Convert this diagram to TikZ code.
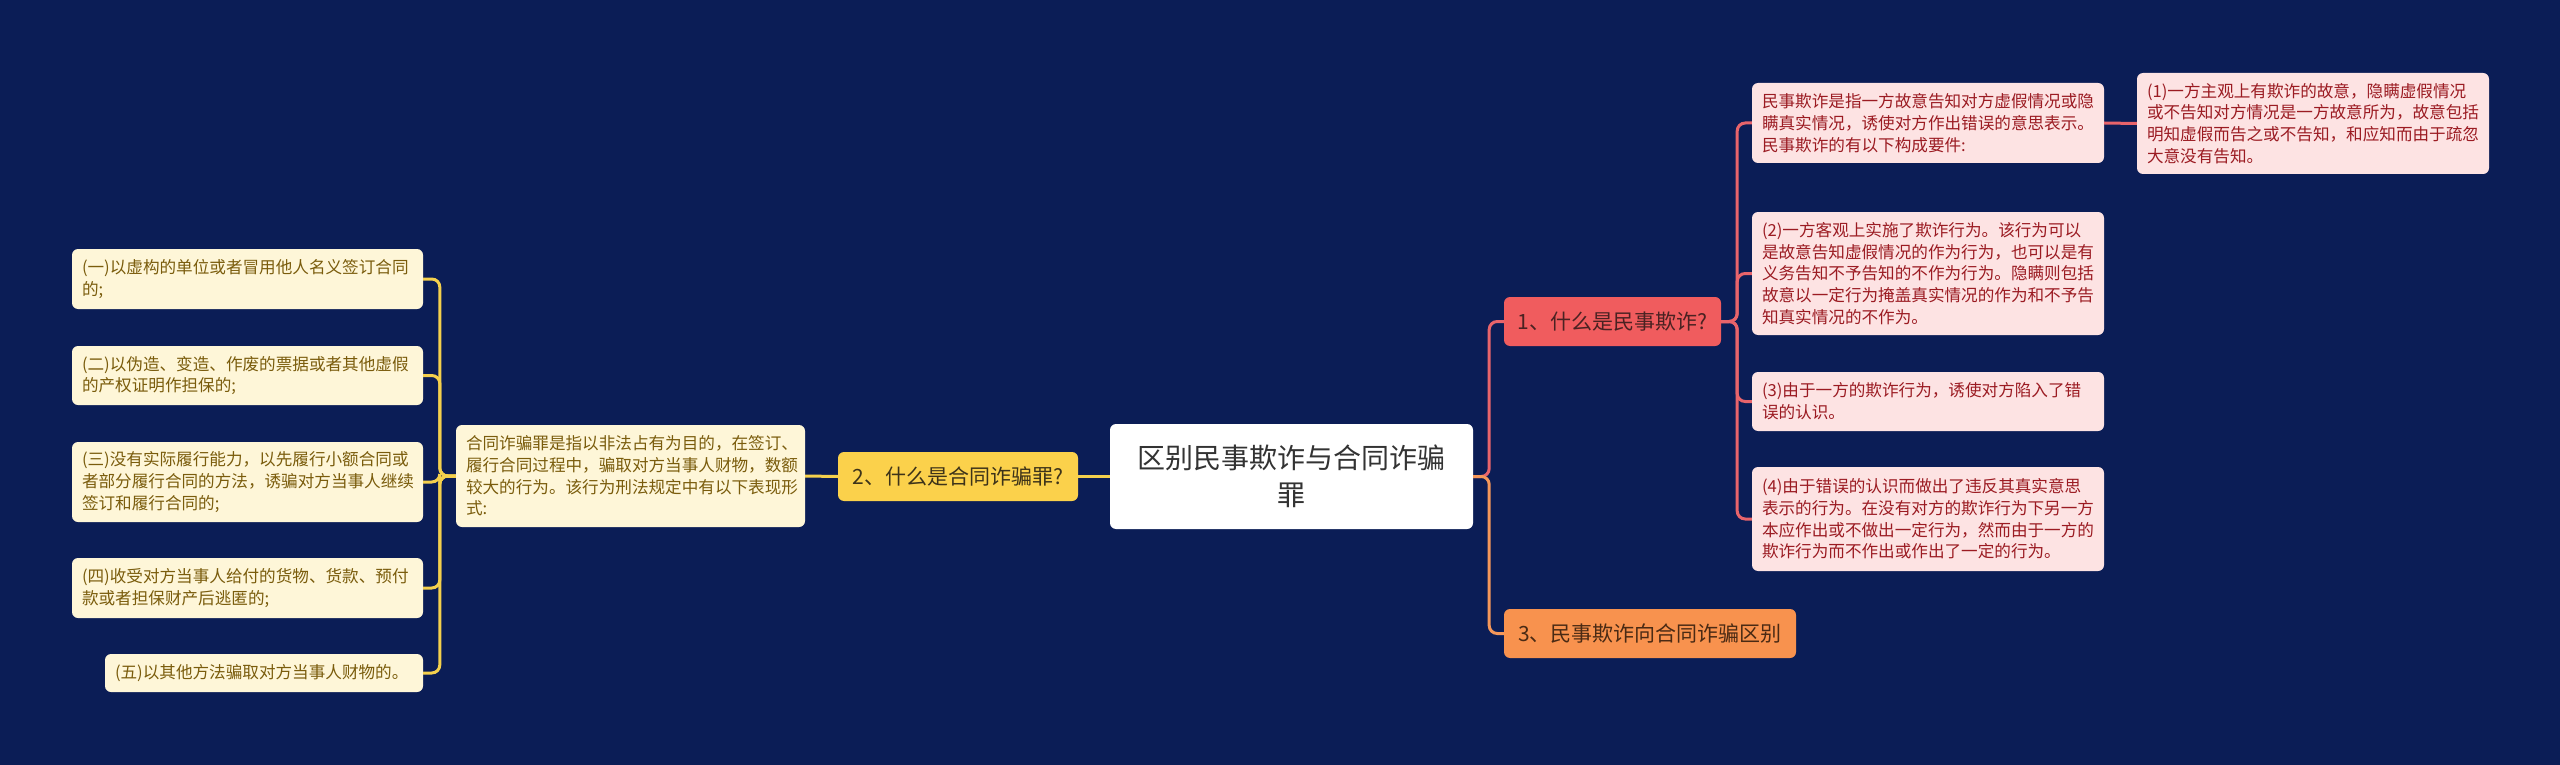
\documentclass[tikz,border=0pt]{standalone}
\usepackage{fontspec}
\setmainfont{Noto Sans CJK SC}
\usetikzlibrary{calc}

\begin{document}
\begin{tikzpicture}[x=1pt, y=-1pt,
    box/.style={rounded corners=6pt, inner xsep=10pt, inner ysep=0pt},
    rootbox/.style={box, fill=white, text=rootText, align=center, font=\fontsize{28}{37}\selectfont},
    branchbox/.style={box, align=center, minimum height=49pt, font=\fontsize{21}{26}\selectfont},
    leafR/.style={box, fill=leafRFill, text=leafRText, align=left, text width=332pt, font=\fontsize{16.6}{21.7}\selectfont},
    leafL/.style={box, fill=leafLFill, text=leafLText, align=left, text width=331pt, font=\fontsize{16.6}{21.7}\selectfont},
    link/.style={line width=3pt, rounded corners=8pt}]
    % Define colours
    \definecolor{bgColour}{HTML}{0B1D56}
    \definecolor{rootText}{HTML}{333333}
    \definecolor{redFill}{HTML}{F05C5E}
    \definecolor{redText}{HTML}{4A2222}
    \definecolor{orangeFill}{HTML}{F8924E}
    \definecolor{orangeText}{HTML}{4A2A14}
    \definecolor{yellowFill}{HTML}{FBD14B}
    \definecolor{yellowText}{HTML}{3D3319}
    \definecolor{leafRFill}{HTML}{FDE3E3}
    \definecolor{leafRText}{HTML}{9B1B22}
    \definecolor{leafLFill}{HTML}{FEF6D8}
    \definecolor{leafLText}{HTML}{7A5C0C}
    \definecolor{redLine}{HTML}{E8646B}
    \definecolor{orangeLine}{HTML}{F5975A}
    \definecolor{yellowLine}{HTML}{F4D04D}

    % Background
    \fill[bgColour] (0,0) rectangle (2560,765);
    \useasboundingbox (0,0) rectangle (2560,765);

    % Root
    \node[rootbox, minimum width=363pt, minimum height=105pt] (root) at (1291.5,476.5) {区别民事欺诈与合同诈骗\\罪};

    % Branches
    \node[branchbox, fill=redFill, text=redText, minimum width=217pt] (n1) at (1612.5,321.5) {1、什么是民事欺诈?};
    \node[branchbox, fill=yellowFill, text=yellowText, minimum width=240pt] (n2) at (958,476.5) {2、什么是合同诈骗罪?};
    \node[branchbox, fill=orangeFill, text=orangeText, minimum width=292pt] (n3) at (1650,633.5) {3、民事欺诈向合同诈骗区别};

    % Right leaves
    \node[leafR, minimum height=80pt] (ra) at (1928,123) {民事欺诈是指一方故意告知对方虚假情况或隐\\瞒真实情况，诱使对方作出错误的意思表示。\\民事欺诈的有以下构成要件:};
    \node[leafR, minimum height=101pt] (r1) at (2313,123.5) {(1)一方主观上有欺诈的故意，隐瞒虚假情况\\或不告知对方情况是一方故意所为，故意包括\\明知虚假而告之或不告知，和应知而由于疏忽\\大意没有告知。};
    \node[leafR, minimum height=123pt] (r2) at (1928,273.5) {(2)一方客观上实施了欺诈行为。该行为可以\\是故意告知虚假情况的作为行为，也可以是有\\义务告知不予告知的不作为行为。隐瞒则包括\\故意以一定行为掩盖真实情况的作为和不予告\\知真实情况的不作为。};
    \node[leafR, minimum height=59pt] (r3) at (1928,401.5) {(3)由于一方的欺诈行为，诱使对方陷入了错\\误的认识。};
    \node[leafR, minimum height=104pt] (r4) at (1928,519) {(4)由于错误的认识而做出了违反其真实意思\\表示的行为。在没有对方的欺诈行为下另一方\\本应作出或不做出一定行为，然而由于一方的\\欺诈行为而不作出或作出了一定的行为。};

    % Left leaves
    \node[leafL, text width=329pt, minimum height=102pt] (desc) at (630.5,476) {合同诈骗罪是指以非法占有为目的，在签订、\\履行合同过程中，骗取对方当事人财物，数额\\较大的行为。该行为刑法规定中有以下表现形\\式:};
    \node[leafL, minimum height=60pt] (l1) at (247.5,279) {(一)以虚构的单位或者冒用他人名义签订合同\\的;};
    \node[leafL, minimum height=59pt] (l2) at (247.5,375.5) {(二)以伪造、变造、作废的票据或者其他虚假\\的产权证明作担保的;};
    \node[leafL, minimum height=80pt] (l3) at (247.5,482) {(三)没有实际履行能力，以先履行小额合同或\\者部分履行合同的方法，诱骗对方当事人继续\\签订和履行合同的;};
    \node[leafL, minimum height=60pt] (l4) at (247.5,588) {(四)收受对方当事人给付的货物、货款、预付\\款或者担保财产后逃匿的;};
    \node[leafL, text width=298pt, minimum height=38pt] (l5) at (264,673) {(五)以其他方法骗取对方当事人财物的。};

    % Trunk points
    \coordinate (rootR) at ($(root.east)+(16,0)$);
    \coordinate (n1R) at ($(n1.east)+(16,0)$);
    \coordinate (descL) at ($(desc.west)+(-16,0)$);

    % Connectors
    \draw[link, redLine] (root.east) -- (rootR) |- (n1.west);
    \draw[link, orangeLine] (root.east) -- (rootR) |- (n3.west);
    \foreach \leaf in {ra,r2,r3,r4}
        \draw[link, redLine] (n1.east) -- (n1R) |- (\leaf.west);
    \draw[link, redLine] (ra.east) -- (r1.west);
    \draw[link, yellowLine] (n2.east) -- (root.west);
    \draw[link, yellowLine] (desc.east) -- (n2.west);
    \foreach \leaf in {l1,l2,l3,l4,l5}
        \draw[link, yellowLine] (desc.west) -- (descL) |- (\leaf.east);

\end{tikzpicture}
\end{document}
